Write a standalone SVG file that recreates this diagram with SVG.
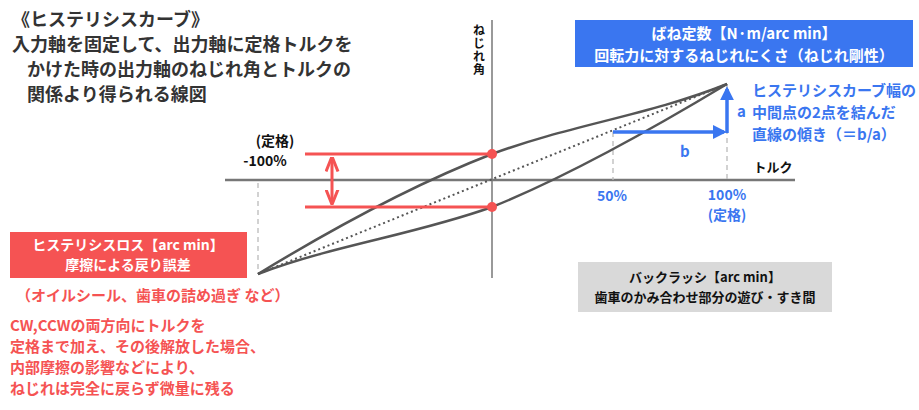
<svg xmlns="http://www.w3.org/2000/svg" width="919" height="410" viewBox="0 0 919 410">
<defs>
<style>
text{font-family:"Noto Sans CJK JP","Liberation Sans",sans-serif;font-weight:bold}
.t{font-size:18px;fill:#333}
.r{fill:#f55353}
.b{fill:#3a76f0}
.curve{fill:none;stroke:#555;stroke-width:2.5}
.dash{stroke:#bbb;stroke-width:1.3;stroke-dasharray:5,4}
.red{stroke:#f55353;stroke-width:3;fill:none}
.blue{stroke:#3a76f0;stroke-width:3.5;fill:none}
</style>
<marker id="ab" viewBox="0 0 10 10" refX="8" refY="5" markerWidth="4" markerHeight="4" orient="auto"><path d="M0,0L10,5L0,10z" fill="#3a76f0"/></marker>
<marker id="ar" viewBox="0 0 10 10" refX="9" refY="5" markerWidth="5" markerHeight="5" orient="auto-start-reverse"><path d="M0,1L10,5L0,9" fill="none" stroke="#f55353" stroke-width="2"/></marker>
</defs>
<g id="title">
<text x="12" y="26" class="t">《ヒステリシスカーブ》</text>
<text x="12" y="51" class="t">入力軸を固定して、出力軸に定格トルクを</text>
<text x="27" y="76" class="t">かけた時の出力軸のねじれ角とトルクの</text>
<text x="27" y="101" class="t">関係より得られる線図</text>
</g>
<g id="axes">
<line x1="225" y1="180" x2="795" y2="180" stroke="#777" stroke-width="2.5"/>
<line x1="492" y1="20" x2="492" y2="278" stroke="#777" stroke-width="1.5"/>
<text x="479" y="24" font-size="12" fill="#111" writing-mode="tb" letter-spacing="1">ねじれ角</text>
<text x="773" y="172" font-size="13" fill="#111" text-anchor="middle">トルク</text>
</g>
<g id="connectors">
<line x1="258" y1="183" x2="258" y2="274" class="dash"/>
<line x1="613" y1="132" x2="613" y2="180" class="dash"/>
<line x1="727" y1="84" x2="727" y2="180" class="dash"/>
<path class="curve" d="M258,274 C350,218 430,178 492,154 C570,125 650,115 727,84"/>
<path class="curve" d="M727,84 C634,140 554,182 492,207 C414,235 334,245 258,274"/>
<line x1="258" y1="274" x2="727" y2="84" stroke="#555" stroke-width="2" stroke-dasharray="2,3"/>
<line x1="305" y1="154" x2="492" y2="154" class="red"/>
<line x1="305" y1="207" x2="492" y2="207" class="red"/>
<line x1="332" y1="158" x2="332" y2="203" class="red" stroke-width="2.5" marker-start="url(#ar)" marker-end="url(#ar)"/>
<circle cx="492" cy="154" r="5" fill="#f55353"/>
<circle cx="492" cy="207" r="5" fill="#f55353"/>
<line x1="613" y1="132" x2="724" y2="132" class="blue" marker-end="url(#ab)"/>
<line x1="727" y1="133" x2="727" y2="89" class="blue" marker-end="url(#ab)"/>
</g>
<g id="labels">
<text x="275" y="146" font-size="14" fill="#111" text-anchor="middle">(定格)</text>
<text x="265" y="166" font-size="14" fill="#111" text-anchor="middle">-100%</text>
<text x="612" y="201" font-size="14" class="b" text-anchor="middle">50%</text>
<text x="727" y="200" font-size="14" class="b" text-anchor="middle">100%</text>
<text x="727" y="220" font-size="14" class="b" text-anchor="middle">(定格)</text>
<text x="737" y="117" font-size="15" class="b" font-weight="normal">a</text>
<text x="680" y="157" font-size="15" class="b" font-weight="normal">b</text>
<text x="752" y="96" font-size="15" class="b">ヒステリシスカーブ幅の</text>
<text x="752" y="118" font-size="15" class="b">中間点の2点を結んだ</text>
<text x="752" y="140" font-size="15" class="b">直線の傾き（＝b/a）</text>
</g>
<g id="spring">
<rect x="575" y="20" width="338" height="47" fill="#3a76f0"/>
<text x="744" y="39" font-size="15" fill="#fff" text-anchor="middle">ばね定数【N·m/arc min】</text>
<text x="744" y="61" font-size="15" fill="#fff" text-anchor="middle">回転力に対するねじれにくさ（ねじれ剛性）</text>
</g>
<g id="hysteresis">
<rect x="10" y="232" width="237" height="46" fill="#f55353"/>
<text x="128" y="250" font-size="14" fill="#fff" text-anchor="middle">ヒステリシスロス【arc min】</text>
<text x="128" y="270" font-size="14" fill="#fff" text-anchor="middle">摩擦による戻り誤差</text>
<text x="16" y="301" font-size="15" class="r">（オイルシール、歯車の詰め過ぎ など）</text>
<text x="10" y="331" font-size="15" class="r">CW,CCWの両方向にトルクを</text>
<text x="10" y="352" font-size="15" class="r">定格まで加え、その後解放した場合、</text>
<text x="10" y="373" font-size="15" class="r">内部摩擦の影響などにより、</text>
<text x="10" y="394" font-size="15" class="r">ねじれは完全に戻らず微量に残る</text>
</g>
<g id="backlash">
<rect x="578" y="262" width="254" height="50" fill="#d9d9d9"/>
<text x="705" y="282" font-size="13" fill="#111" text-anchor="middle">バックラッシ【arc min】</text>
<text x="705" y="302" font-size="13" fill="#111" text-anchor="middle">歯車のかみ合わせ部分の遊び・すき間</text>
</g>
</svg>
